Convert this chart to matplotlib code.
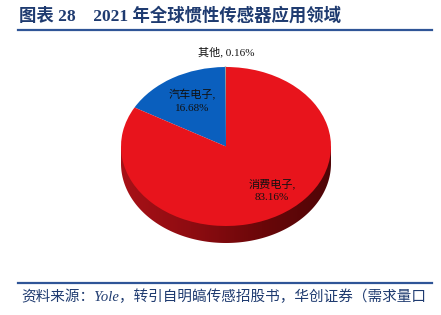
import numpy as np
import matplotlib
matplotlib.use("Agg")
import matplotlib.pyplot as plt
from matplotlib.patches import Polygon
from matplotlib.colors import LinearSegmentedColormap

plt.rcParams['font.family'] = ['Liberation Serif', 'Noto Sans CJK SC']

# data
labels = ["其他", "汽车电子", "消费电子"]
shares = [0.16, 16.68, 83.16]
colors = ["#9A9A9A", "#0A5FBE", "#E8141C"]

title = "图表 28    2021 年全球惯性传感器应用领域"
source = "资料来源：Yole，转引自明皜传感招股书，华创证券（需求量口"

W, H = 441, 315
fig = plt.figure(figsize=(W / 100, H / 100), dpi=100)
ax = fig.add_axes([0, 0, 1, 1])

# pie centre / radii in pixels
cx, cy, rx, ry, depth = 226, 146.5, 105, 79.5, 17

# 3d side (front half only, all red)
t = np.linspace(np.pi, 2 * np.pi, 200)
side = np.column_stack([np.cos(t), np.sin(t) - depth / ry])
side = np.vstack([side, [[1, 0], [-1, 0]]])
side_patch = Polygon(side, closed=True, facecolor="none", edgecolor="none")
ax.add_patch(side_patch)
cmap = LinearSegmentedColormap.from_list("side", ["#A81117", "#8E0C11", "#6A0709", "#4F0507"])
grad = np.linspace(0, 1, 256).reshape(1, -1)
im = ax.imshow(grad, cmap=cmap, extent=[-1, 1, -1 - depth / ry, 0], aspect="auto", zorder=1)
im.set_clip_path(side_patch)

# top face
wedges, _ = ax.pie(shares, colors=colors, startangle=90, counterclock=True,
                   radius=1, center=(0, 0), frame=True,
                   wedgeprops=dict(linewidth=0))
for w in wedges:
    w.set_zorder(2)
wedges[0].set_edgecolor("#9A9A9A")
wedges[0].set_linewidth(0.8)

ax.set_aspect("auto")
ax.set_xlim((0 - cx) / rx, (W - cx) / rx)
ax.set_ylim((cy - H) / ry, cy / ry)
ax.axis("off")


def px(x, y):
    return (x - cx) / rx, (cy - y) / ry


tk = dict(fontsize=8, color="#111111", ha="center", va="center", zorder=5)
ax.text(*px(226, 52), f"{labels[0]}, {shares[0]:.2f}%", **tk)
ax.text(*px(192, 101), f"{labels[1]},\n{shares[1]:.2f}%", linespacing=1.5, **tk)
ax.text(*px(272, 190), f"{labels[2]},\n{shares[2]:.2f}%", linespacing=1.5, **tk)

# header / footer
navy = "#1F3B70"
fig.text(19 / W, 1 - 16 / H, title, fontsize=12.5, fontweight="bold", color=navy,
         ha="left", va="center")
fig.add_artist(plt.Line2D([18 / W, 432 / W], [1 - 30 / H] * 2, color="#2F5597", lw=1.6))
fig.add_artist(plt.Line2D([18 / W, 432 / W], [1 - 283 / H] * 2, color="#2F5597", lw=1.6))
fig.text(21 / W, 1 - 297 / H, source, fontsize=10.5, style="italic", color=navy,
         ha="left", va="center")

fig.savefig("out.png", dpi=100)
